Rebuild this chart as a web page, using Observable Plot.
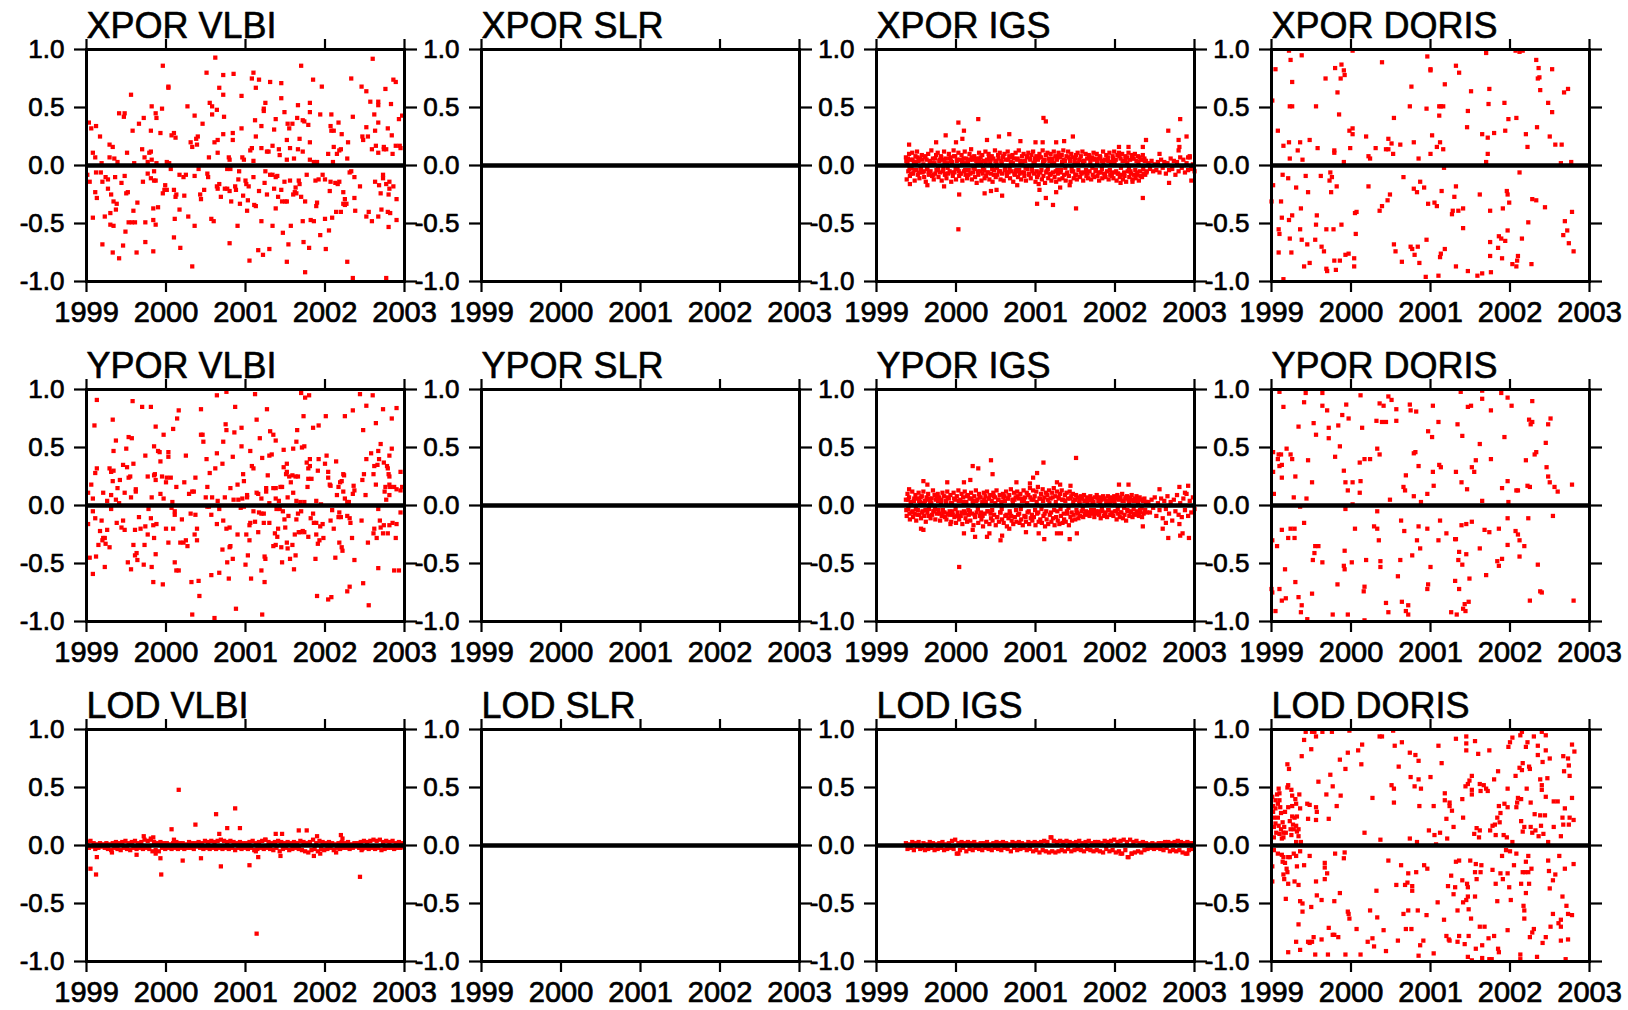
<!DOCTYPE html>
<html><head><meta charset="utf-8">
<script src="https://cdn.jsdelivr.net/npm/d3@7"></script>
<script src="https://cdn.jsdelivr.net/npm/@observablehq/plot@0.6"></script>
<style>
html,body{margin:0;padding:0;background:#fff;}
#chart{position:relative;width:1628px;height:1010px;overflow:hidden;background:#fff;}
.panel{position:absolute;}
</style></head><body><div id="chart"></div>
<script>
const parameters = ["XPOR","YPOR","LOD"];
const techniques = ["VLBI","SLR","IGS","DORIS"];
const yearTicks = [1999,2000,2001,2002,2003];
const valueTicks = [-1,-0.5,0,0.5,1];

const xporVlbi = [
[1999.03,0.37],[1999.06,0.32],[1999.12,0.34],[1999.17,0.25],[1999.08,0.11],[1999.11,0.07],[1999.19,0.02],[1999.29,0.18],[1999.33,0.16],[1999.29,0.07],
[1999.35,0.06],[1999.39,0.03],[1999.41,0.45],[1999.47,0.42],[1999.48,0.45],[1999.51,0.11],[1999.56,0.61],[1999.58,0.30],[1999.60,0.02],[1999.66,0.36],
[1999.70,0.14],[1999.72,0.41],[1999.73,0.07],[1999.77,0.03],[1999.79,0.11],[1999.81,0.12],[1999.81,0.30],[1999.82,0.51],[1999.82,0.05],[1999.87,0.45],
[1999.88,0.41],[1999.88,0.02],[1999.93,0.28],[1999.95,0.49],[1999.96,0.86],[2000.01,0.03],[2000.03,0.67],[2000.03,0.68],[2000.04,0.02],[2000.07,0.26],
[2000.10,0.28],[2000.12,0.24],[2000.27,0.51],[2000.31,0.20],[2000.33,0.16],[2000.36,0.43],[2000.38,0.23],[2000.40,0.25],[2000.39,0.18],[2000.46,0.36],
[2000.51,0.80],[2000.54,0.07],[2000.55,0.54],[2000.58,0.51],[2000.58,0.44],[2000.62,0.93],[2000.61,0.20],[2000.64,0.48],[2000.65,0.22],[2000.65,0.11],
[2000.67,0.67],[2000.72,0.78],[2000.72,0.61],[2000.73,0.42],[2000.72,0.27],[2000.79,0.07],[2000.80,0.05],[2000.84,0.28],[2000.84,0.22],[2000.85,0.79],
[2000.95,0.60],[2000.95,0.32],[2000.96,0.07],[2000.98,0.05],[2001.06,0.13],[2001.08,0.15],[2001.08,0.75],[2001.10,0.80],[2001.12,0.39],[2001.13,0.67],
[2001.13,0.25],[2001.10,0.04],[2001.17,0.74],[2001.20,0.34],[2001.20,0.15],[2001.23,0.49],[2001.23,0.47],[2001.25,0.54],[2001.27,0.12],[2001.29,0.12],
[2001.31,0.72],[2001.34,0.17],[2001.36,0.31],[2001.38,0.40],[2001.42,0.14],[2001.43,0.09],[2001.45,0.71],[2001.45,0.58],[2001.49,0.46],[2001.52,0.22],
[2001.52,0.05],[2001.53,0.36],[2001.55,0.32],[2001.56,0.15],[2001.59,0.36],[2001.61,0.06],[2001.65,0.41],[2001.66,0.52],[2001.66,0.14],[2001.68,0.23],
[2001.70,0.86],[2001.72,0.39],[2001.72,0.12],[2001.74,0.38],[2001.79,0.35],[2001.81,0.46],[2001.81,0.54],[2001.81,0.20],[2001.81,0.05],[2001.85,0.74],
[2001.86,0.03],[2001.90,0.03],[2001.94,0.44],[2001.96,0.68],[2002.04,0.10],[2002.07,0.34],[2002.08,0.44],[2002.08,0.30],[2002.10,0.03],[2002.11,0.30],
[2002.11,0.16],[2002.15,0.10],[2002.17,0.37],[2002.18,0.13],[2002.20,0.14],[2002.21,0.27],[2002.28,0.06],[2002.29,0.20],[2002.33,0.75],[2002.35,0.42],
[2002.47,0.25],[2002.48,0.22],[2002.46,0.68],[2002.52,0.64],[2002.52,0.33],[2002.54,0.25],[2002.57,0.55],[2002.59,0.14],[2002.60,0.92],[2002.62,0.44],
[2002.63,0.30],[2002.64,0.17],[2002.67,0.55],[2002.67,0.37],[2002.67,0.52],[2002.67,0.11],[2002.74,0.16],[2002.74,0.14],[2002.76,0.66],[2002.77,0.14],
[2002.79,0.32],[2002.83,0.53],[2002.84,0.26],[2002.85,0.10],[2002.86,0.74],[2002.89,0.72],[2002.89,0.17],[2002.93,0.40],[2002.94,0.17],[2002.97,0.43],
[2002.95,0.15],
[1999.01,-0.08],[1999.04,-0.14],[1999.11,-0.23],[1999.13,-0.28],[1999.08,-0.45],[1999.12,-0.06],[1999.18,-0.06],[1999.20,-0.14],[1999.23,-0.44],[1999.20,-0.68],
[1999.24,-0.10],[1999.27,-0.12],[1999.27,-0.20],[1999.31,-0.25],[1999.30,-0.41],[1999.30,-0.51],[1999.34,-0.52],[1999.34,-0.31],[1999.37,-0.38],[1999.38,-0.33],
[1999.36,-0.10],[1999.33,-0.75],[1999.41,-0.80],[1999.44,-0.15],[1999.46,-0.69],[1999.48,-0.09],[1999.49,-0.57],[1999.50,-0.24],[1999.52,-0.23],[1999.53,-0.49],
[1999.57,-0.49],[1999.59,-0.39],[1999.61,-0.49],[1999.63,-0.75],[1999.64,-0.32],[1999.71,-0.14],[1999.74,-0.49],[1999.74,-0.66],[1999.77,-0.07],[1999.81,-0.11],
[1999.85,-0.05],[1999.85,-0.13],[1999.84,-0.37],[1999.84,-0.47],[1999.87,-0.51],[1999.84,-0.74],[1999.87,-0.13],[1999.90,-0.36],[1999.96,-0.24],[1999.98,-0.21],
[1999.99,-0.17],[2000.01,-0.21],[2000.06,-0.03],[2000.10,-0.21],[2000.11,-0.46],[2000.10,-0.62],[2000.12,-0.27],[2000.13,-0.25],[2000.17,-0.38],[2000.18,-0.71],
[2000.17,-0.08],[2000.22,-0.10],[2000.23,-0.26],[2000.25,-0.08],[2000.28,-0.44],[2000.33,-0.87],[2000.36,-0.09],[2000.36,-0.52],[2000.41,-0.03],[2000.43,-0.25],
[2000.44,-0.29],[2000.48,-0.21],[2000.52,-0.07],[2000.53,-0.10],[2000.57,-0.46],[2000.60,-0.48],[2000.64,-0.18],[2000.65,-0.20],[2000.67,-0.16],[2000.69,-0.27],
[2000.74,-0.20],[2000.77,-0.20],[2000.77,-0.03],[2000.80,-0.22],[2000.81,-0.03],[2000.80,-0.67],[2000.82,-0.31],[2000.87,-0.18],[2000.88,-0.21],[2000.90,-0.52],
[2000.91,-0.12],[2000.92,-0.05],[2000.93,-0.33],[2000.97,-0.26],[2001.00,-0.13],[2001.01,-0.16],[2001.02,-0.39],[2001.03,-0.30],[2001.04,-0.18],[2001.05,-0.82],
[2001.10,-0.10],[2001.11,-0.34],[2001.13,-0.35],[2001.16,-0.73],[2001.17,-0.22],[2001.20,-0.48],[2001.22,-0.77],[2001.24,-0.15],[2001.25,-0.05],[2001.27,-0.25],
[2001.30,-0.72],[2001.31,-0.08],[2001.34,-0.08],[2001.34,-0.52],[2001.36,-0.20],[2001.38,-0.37],[2001.38,-0.10],[2001.40,-0.09],[2001.41,-0.27],[2001.45,-0.21],
[2001.46,-0.31],[2001.47,-0.58],[2001.49,-0.14],[2001.50,-0.31],[2001.52,-0.31],[2001.52,-0.83],[2001.54,-0.68],[2001.56,-0.13],[2001.57,-0.52],[2001.60,-0.25],
[2001.62,-0.23],[2001.63,-0.19],[2001.64,-0.24],[2001.67,-0.13],[2001.68,-0.16],[2001.70,-0.27],[2001.72,-0.48],[2001.73,-0.66],[2001.75,-0.92],[2001.75,-0.31],
[2001.77,-0.08],[2001.80,-0.71],[2001.82,-0.47],[2001.86,-0.48],[2001.88,-0.13],[2001.89,-0.35],[2001.90,-0.32],[2001.92,-0.12],[2001.94,-0.60],[2001.97,-0.08],
[2002.00,-0.12],[2002.00,-0.46],[2002.01,-0.72],[2002.05,-0.56],[2002.06,-0.22],[2002.07,-0.14],[2002.09,-0.45],[2002.13,-0.15],[2002.14,-0.40],[2002.16,-0.16],
[2002.18,-0.14],[2002.20,-0.40],[2002.23,-0.23],[2002.23,-0.33],[2002.25,-0.34],[2002.25,-0.29],[2002.27,-0.33],[2002.28,-0.83],[2002.31,-0.06],[2002.33,-0.05],
[2002.37,-0.10],[2002.35,-0.97],[2002.38,-0.39],[2002.37,-0.28],[2002.44,-0.18],[2002.52,-0.44],[2002.55,-0.40],[2002.59,-0.48],[2002.63,-0.14],[2002.67,-0.44],
[2002.68,-0.17],[2002.70,-0.24],[2002.71,-0.38],[2002.73,-0.08],[2002.73,-0.11],[2002.77,-0.16],[2002.77,-0.97],[2002.79,-0.40],[2002.80,-0.25],[2002.80,-0.53],
[2002.81,-0.20],[2002.82,-0.41],[2002.81,-0.14],[2002.86,-0.18],[2002.90,-0.47],[2002.90,-0.29]
];
const xporSlr = [];
const xporIgs = [
[1999.37,0.07],[1999.38,-0.12],[1999.39,0.03],[1999.40,-0.05],[1999.41,0.10],[1999.42,-0.09],[1999.43,0.05],[1999.44,-0.02],[1999.45,0.11],[1999.46,-0.07],
[1999.47,0.02],[1999.48,-0.13],[1999.49,0.08],[1999.50,-0.04],[1999.51,0.12],[1999.52,-0.08],[1999.53,0.04],[1999.54,-0.11],[1999.55,0.06],[1999.56,-0.03],
[1999.57,0.09],[1999.58,-0.06],[1999.59,0.01],[1999.60,-0.10],[1999.61,0.07],[1999.62,-0.14],[1999.63,0.05],[1999.64,-0.02],[1999.65,0.10],[1999.66,-0.08],
[1999.67,0.03],[1999.68,-0.05],[1999.69,0.13],[1999.70,-0.09],[1999.71,0.06],[1999.72,-0.12],[1999.73,0.02],[1999.74,-0.07],[1999.75,0.09],[1999.76,-0.04],
[1999.77,0.11],[1999.78,-0.10],[1999.79,0.04],[1999.80,-0.06],[1999.81,0.08],[1999.82,-0.13],[1999.83,0.05],[1999.84,-0.03],[1999.85,0.12],[1999.86,-0.08],
[1999.87,0.06],[1999.88,-0.11],[1999.89,0.02],[1999.90,-0.07],[1999.91,0.10],[1999.92,-0.05],[1999.93,0.07],[1999.94,-0.14],[1999.95,0.03],[1999.96,-0.09],
[1999.97,0.13],[1999.98,-0.06],[1999.99,0.08],[2000.00,-0.12],[2000.01,0.04],[2000.02,-0.03],[2000.03,0.11],[2000.04,-0.09],[2000.05,0.05],[2000.06,-0.07],
[2000.07,0.09],[2000.08,-0.13],[2000.09,0.02],[2000.10,-0.05],[2000.11,0.12],[2000.12,-0.08],[2000.13,0.06],[2000.14,-0.11],[2000.15,0.03],[2000.16,-0.04],
[2000.17,0.10],[2000.18,-0.07],[2000.19,0.14],[2000.20,-0.12],[2000.21,0.05],[2000.22,-0.02],[2000.23,0.08],[2000.24,-0.10],[2000.25,0.06],[2000.26,-0.15],
[2000.27,0.03],[2000.28,-0.08],[2000.29,0.11],[2000.30,-0.05],[2000.31,0.07],[2000.32,-0.13],[2000.33,0.09],[2000.34,-0.03],[2000.35,0.04],[2000.36,-0.11],
[2000.37,0.12],[2000.38,-0.09],[2000.39,0.05],[2000.40,-0.06],[2000.41,0.10],[2000.42,-0.12],[2000.43,0.02],[2000.44,-0.07],[2000.45,0.08],[2000.46,-0.14],
[2000.47,0.06],[2000.48,-0.04],[2000.49,0.13],[2000.50,-0.10],[2000.51,0.03],[2000.52,-0.08],[2000.53,0.09],[2000.54,-0.05],[2000.55,0.11],[2000.56,-0.12],
[2000.57,0.04],[2000.58,-0.07],[2000.59,0.07],[2000.60,-0.13],[2000.61,0.10],[2000.62,-0.03],[2000.63,0.05],[2000.64,-0.09],[2000.65,0.12],[2000.66,-0.06],
[2000.67,0.08],[2000.68,-0.11],[2000.69,0.03],[2000.70,-0.05],[2000.71,0.09],[2000.72,-0.14],[2000.73,0.06],[2000.74,-0.08],[2000.75,0.11],[2000.76,-0.04],
[2000.77,0.05],[2000.78,-0.10],[2000.79,0.13],[2000.80,-0.07],[2000.81,0.02],[2000.82,-0.12],[2000.83,0.08],[2000.84,-0.06],[2000.85,0.10],[2000.86,-0.09],
[2000.87,0.04],[2000.88,-0.13],[2000.89,0.07],[2000.90,-0.03],[2000.91,0.11],[2000.92,-0.08],[2000.93,0.06],[2000.94,-0.11],[2000.95,0.09],[2000.96,-0.05],
[2000.97,0.12],[2000.98,-0.07],[2000.99,0.03],[2001.00,-0.14],[2001.01,0.08],[2001.02,-0.10],[2001.03,0.05],[2001.04,-0.16],[2001.05,0.10],[2001.06,-0.06],
[2001.07,0.07],[2001.08,-0.12],[2001.09,0.13],[2001.10,-0.09],[2001.11,0.04],[2001.12,-0.15],[2001.13,0.09],[2001.14,-0.05],[2001.15,0.11],[2001.16,-0.11],
[2001.17,0.06],[2001.18,-0.08],[2001.19,0.10],[2001.20,-0.13],[2001.21,0.03],[2001.22,-0.06],[2001.23,0.12],[2001.24,-0.10],[2001.25,0.08],[2001.26,-0.14],
[2001.27,0.05],[2001.28,-0.07],[2001.29,0.11],[2001.30,-0.12],[2001.31,0.07],[2001.32,-0.04],[2001.33,0.09],[2001.34,-0.11],[2001.35,0.13],[2001.36,-0.08],
[2001.37,0.04],[2001.38,-0.13],[2001.39,0.08],[2001.40,-0.06],[2001.41,0.12],[2001.42,-0.09],[2001.43,0.06],[2001.44,-0.14],[2001.45,0.10],[2001.46,-0.05],
[2001.47,0.07],[2001.48,-0.11],[2001.49,0.03],[2001.50,-0.08],[2001.51,0.09],[2001.52,-0.12],[2001.53,0.11],[2001.54,-0.04],[2001.55,0.05],[2001.56,-0.10],
[2001.57,0.08],[2001.58,-0.07],[2001.59,0.12],[2001.60,-0.13],[2001.61,0.04],[2001.62,-0.06],[2001.63,0.10],[2001.64,-0.09],[2001.65,0.06],[2001.66,-0.11],
[2001.67,0.09],[2001.68,-0.05],[2001.69,0.03],[2001.70,-0.12],[2001.71,0.07],[2001.72,-0.08],[2001.73,0.11],[2001.74,-0.10],[2001.75,0.05],[2001.76,-0.04],
[2001.77,0.10],[2001.78,-0.09],[2001.79,0.06],[2001.80,-0.13],[2001.81,0.08],[2001.82,-0.06],[2001.83,0.04],[2001.84,-0.11],[2001.85,0.12],[2001.86,-0.07],
[2001.87,0.05],[2001.88,-0.10],[2001.89,0.09],[2001.90,-0.05],[2001.91,0.07],[2001.92,-0.12],[2001.93,0.11],[2001.94,-0.08],[2001.95,0.03],[2001.96,-0.09],
[2001.97,0.08],[2001.98,-0.11],[2001.99,0.12],[2002.00,-0.06],[2002.01,0.05],[2002.02,-0.13],[2002.03,0.09],[2002.04,-0.07],[2002.05,0.11],[2002.06,-0.10],
[2002.07,0.06],[2002.08,-0.08],[2002.09,0.10],[2002.10,-0.12],[2002.11,0.04],[2002.12,-0.09],[2002.13,0.08],[2002.14,-0.14],[2002.15,0.07],[2002.16,-0.05],
[2002.17,0.11],[2002.18,-0.10],[2002.19,0.05],[2002.20,-0.07],[2002.21,0.09],[2002.22,-0.12],[2002.23,0.06],[2002.24,-0.08],[2002.25,0.10],[2002.26,-0.11],
[2002.27,0.04],[2002.28,-0.06],[2002.29,0.08],[2002.30,-0.13],[2002.31,0.07],[2002.32,-0.09],[2002.33,0.05],[2002.34,-0.10],[2002.35,0.09],[2002.36,-0.07],
[2002.37,0.06],[2002.38,-0.08],[2002.39,0.04],[2002.40,-0.05],
[1999.375,0.04],[1999.395,0.06],[1999.415,-0.03],[1999.435,-0.07],[1999.455,0.05],[1999.475,-0.04],[1999.495,0.03],[1999.515,0.07],[1999.535,-0.06],[1999.555,-0.02],
[1999.575,0.05],[1999.595,-0.05],[1999.615,0.08],[1999.635,-0.03],[1999.655,-0.06],[1999.675,0.04],[1999.695,0.02],[1999.715,-0.08],[1999.735,0.06],[1999.755,-0.04],
[1999.775,-0.03],[1999.795,0.05],[1999.815,0.07],[1999.835,-0.05],[1999.855,0.03],[1999.875,-0.07],[1999.895,-0.02],[1999.915,0.06],[1999.935,0.04],[1999.955,-0.06],
[1999.975,0.08],[1999.995,-0.03],[2000.015,0.05],[2000.035,-0.05],[2000.055,-0.07],[2000.075,0.03],[2000.095,0.06],[2000.115,-0.04],[2000.135,0.02],[2000.155,-0.08],
[2000.175,0.05],[2000.195,0.07],[2000.215,-0.06],[2000.235,-0.03],[2000.255,0.04],[2000.275,-0.05],[2000.295,0.06],[2000.315,0.03],[2000.335,-0.07],[2000.355,-0.04],
[2000.375,0.02],[2000.395,-0.06],[2000.415,0.07],[2000.435,0.05],[2000.455,-0.03],[2000.475,-0.08],[2000.495,0.04],[2000.515,-0.02],[2000.535,0.06],[2000.555,-0.05],
[2000.575,0.03],[2000.595,0.08],[2000.615,-0.04],[2000.635,-0.06],[2000.655,0.05],[2000.675,-0.03],[2000.695,0.07],[2000.715,0.02],[2000.735,-0.07],[2000.755,-0.05],
[2000.775,0.06],[2000.795,-0.04],[2000.815,0.04],[2000.835,0.03],[2000.855,-0.06],[2000.875,-0.02],[2000.895,0.08],[2000.915,-0.07],[2000.935,0.05],[2000.955,-0.03],
[2000.975,0.02],[2000.995,0.06],[2001.015,-0.05],[2001.035,-0.08],[2001.055,0.07],[2001.075,-0.04],[2001.095,0.03],[2001.115,0.05],[2001.135,-0.06],[2001.155,-0.03],
[2001.175,0.04],[2001.195,-0.07],[2001.215,0.06],[2001.235,0.02],[2001.255,-0.05],[2001.275,-0.04],[2001.295,0.08],[2001.315,-0.06],[2001.335,0.03],[2001.355,0.05],
[2001.375,-0.02],[2001.395,-0.07],[2001.415,0.07],[2001.435,0.04],[2001.455,-0.03],[2001.475,-0.05],[2001.495,0.06],[2001.515,-0.08],[2001.535,0.02],[2001.555,0.05],
[2001.575,-0.06],[2001.595,0.03],[2001.615,0.04],[2001.635,-0.04],[2001.655,-0.07],[2001.675,0.08],[2001.695,0.05],[2001.715,-0.02],[2001.735,0.06],[2001.755,-0.05],
[2001.775,0.03],[2001.795,-0.06],[2001.815,0.07],[2001.835,-0.03],[2001.855,0.02],[2001.875,-0.08],[2001.895,0.05],[2001.915,0.04],[2001.935,-0.04],[2001.955,-0.06],
[2001.975,0.06],[2001.995,0.03],[2002.015,-0.05],[2002.035,-0.07],[2002.055,0.08],[2002.075,-0.02],[2002.095,0.04],[2002.115,-0.06],[2002.135,0.05],[2002.155,0.02],
[2002.175,-0.03],[2002.195,-0.05],[2002.215,0.07],[2002.235,0.06],[2002.255,-0.04],[2002.275,-0.08],[2002.295,0.03],[2002.315,-0.05],[2002.335,0.05],[2002.355,-0.03],
[2002.375,0.04],[2002.395,-0.06],
[2002.42,0.02],[2002.44,-0.03],[2002.46,0.04],[2002.48,-0.05],[2002.50,0.01],[2002.52,-0.04],[2002.54,0.03],[2002.56,-0.06],[2002.58,0.05],[2002.60,-0.02],
[2002.62,0.03],[2002.64,-0.07],[2002.66,0.02],[2002.68,-0.04],[2002.70,0.06],[2002.72,-0.03],[2002.74,0.04],[2002.76,-0.08],[2002.78,0.03],[2002.80,-0.05],
[2002.82,0.07],[2002.84,-0.02],[2002.86,0.05],[2002.88,-0.06],[2002.90,0.02],[2002.92,-0.04],[2002.94,0.08],[2002.96,-0.03],[2002.98,0.01],[2003.00,-0.05],
[2000.03,0.37],[2000.28,0.40],[2000.10,0.30],[2000.08,0.23],[1999.87,0.26],[1999.75,0.20],[1999.41,0.18],[2000.00,0.20],[2000.39,0.22],[2000.54,0.25],
[2000.67,0.27],[2000.81,0.21],[2001.10,0.41],[2001.13,0.38],[2001.00,0.20],[2001.26,0.20],[2001.36,0.21],[2001.47,0.25],[2001.09,0.20],[2002.39,0.22],
[2002.35,0.16],[2002.17,0.16],[2002.05,0.16],[2002.67,0.30],[2002.82,0.40],[2002.80,0.22],[2002.90,0.25],[2002.81,0.16],[2002.80,0.13],[2002.56,0.10],
[2002.92,0.07],[2002.94,0.07],
[2000.03,-0.55],[2000.04,-0.25],[2000.36,-0.24],[2000.44,-0.22],[2000.51,-0.21],[2000.58,-0.26],[2001.02,-0.33],[2001.13,-0.28],[2001.22,-0.34],[2001.26,-0.23],
[2001.51,-0.37],[2002.35,-0.28],[1999.42,-0.16],[1999.64,-0.17],[1999.85,-0.18],[2000.77,-0.17],[2001.05,-0.21],[2001.31,-0.19],[2001.43,-0.17],[2002.68,-0.15],
[2002.96,-0.13],[2002.07,-0.15],[2002.22,-0.14]
];
const xporDoris = [
[1999.01,0.56],[1999.05,0.83],[1999.08,0.30],[1999.15,0.17],[1999.22,0.99],[1999.24,0.91],[1999.23,0.51],[1999.26,0.51],[1999.26,0.72],[1999.22,0.20],
[1999.23,0.06],[1999.33,0.13],[1999.36,0.20],[1999.38,0.95],[1999.39,0.05],[1999.48,0.22],[1999.56,0.51],[1999.58,0.15],[1999.68,0.75],[1999.79,0.13],
[1999.79,0.11],[1999.80,0.84],[1999.83,0.63],[1999.85,0.44],[1999.87,0.75],[1999.88,0.87],[1999.91,0.82],[1999.92,0.78],[1999.91,0.03],[1999.98,0.30],
[1999.99,0.15],[2000.02,0.99],[2000.02,0.32],[2000.02,0.27],[2000.19,0.25],[2000.22,0.08],[2000.24,0.06],[2000.31,0.15],[2000.39,0.89],[2000.44,0.14],
[2000.47,0.23],[2000.47,0.14],[2000.51,0.19],[2000.53,0.10],[2000.54,0.41],[2000.62,0.18],[2000.74,0.51],[2000.76,0.68],[2000.79,0.20],[2000.85,0.06],
[2000.95,0.49],[2000.96,0.94],[2001.00,0.82],[2001.00,0.83],[2001.00,0.10],[2001.02,0.26],[2001.08,0.16],[2001.11,0.51],[2001.11,0.43],[2001.12,0.20],
[2001.13,0.51],[2001.16,0.51],[2001.16,0.14],[2001.18,0.70],[2001.32,0.86],[2001.36,0.80],[2001.46,0.33],[2001.47,0.47],[2001.51,0.64],[2001.65,0.27],
[2001.70,0.97],[2001.72,0.24],[2001.72,0.10],[2001.70,0.03],[2001.73,0.53],[2001.74,0.66],[2001.80,0.28],[2001.93,0.54],[2001.94,0.30],[2001.98,0.40],
[2002.07,0.99],[2002.12,0.98],[2002.08,0.41],[2002.16,0.99],[2002.20,0.27],[2002.22,0.16],[2002.33,0.91],[2002.36,0.84],[2002.35,0.75],[2002.37,0.76],
[2002.34,0.33],[2002.38,0.65],[2002.48,0.54],[2002.53,0.83],[2002.53,0.46],[2002.50,0.25],[2002.57,0.18],[2002.65,0.18],[2002.68,0.63],[2002.73,0.66],
[2002.64,0.02],[2002.77,0.03],
[1999.00,-0.31],[1999.02,-0.17],[1999.09,-0.55],[1999.10,-0.59],[1999.09,-0.75],[1999.12,-0.31],[1999.13,-0.45],[1999.14,-0.08],[1999.15,-0.98],[1999.21,-0.11],
[1999.22,-0.47],[1999.23,-0.63],[1999.25,-0.75],[1999.26,-0.43],[1999.31,-0.19],[1999.36,-0.55],[1999.37,-0.37],[1999.38,-0.64],[1999.41,-0.87],[1999.43,-0.09],
[1999.45,-0.68],[1999.46,-0.23],[1999.48,-0.84],[1999.55,-0.64],[1999.56,-0.51],[1999.57,-0.43],[1999.62,-0.09],[1999.63,-0.70],[1999.66,-0.74],[1999.69,-0.55],
[1999.69,-0.89],[1999.70,-0.91],[1999.73,-0.13],[1999.74,-0.06],[1999.75,-0.23],[1999.76,-0.10],[1999.78,-0.55],[1999.79,-0.82],[1999.81,-0.90],[1999.82,-0.18],
[1999.86,-0.82],[1999.88,-0.51],[1999.93,-0.77],[1999.97,-0.76],[2000.04,-0.80],[2000.04,-0.87],[2000.05,-0.41],[2000.07,-0.40],[2000.06,-0.59],[2000.22,-0.18],
[2000.36,-0.39],[2000.39,-0.35],[2000.46,-0.30],[2000.49,-0.25],[2000.54,-0.68],[2000.56,-0.74],[2000.64,-0.83],[2000.66,-0.10],[2000.75,-0.70],[2000.77,-0.72],
[2000.79,-0.20],[2000.80,-0.77],[2000.83,-0.23],[2000.84,-0.70],[2000.86,-0.84],[2000.87,-0.14],[2000.92,-0.19],[2000.94,-0.96],[2000.95,-0.64],[2000.97,-0.33],
[2001.05,-0.32],[2001.08,-0.35],[2001.10,-0.95],[2001.12,-0.79],[2001.13,-0.76],[2001.14,-0.22],[2001.17,-0.02],[2001.18,-0.72],[2001.27,-0.42],[2001.28,-0.39],
[2001.30,-0.27],[2001.32,-0.18],[2001.32,-0.87],[2001.35,-0.39],[2001.41,-0.37],[2001.41,-0.54],[2001.47,-0.91],[2001.62,-0.25],[2001.59,-0.95],[2001.65,-0.93],
[2001.75,-0.39],[2001.75,-0.66],[2001.75,-0.78],[2001.76,-0.92],[2001.85,-0.71],[2001.86,-0.61],[2001.89,-0.63],[2001.90,-0.80],[2001.91,-0.37],[2001.94,-0.65],
[2001.96,-0.22],[2001.97,-0.25],[2001.97,-0.56],[2001.99,-0.32],[2002.03,-0.85],[2002.08,-0.87],[2002.09,-0.82],[2002.10,-0.78],[2002.12,-0.06],[2002.15,-0.63],
[2002.23,-0.49],[2002.27,-0.85],[2002.28,-0.29],[2002.33,-0.30],[2002.44,-0.36],[2002.67,-0.60],[2002.69,-0.48],[2002.72,-0.56],[2002.74,-0.67],[2002.78,-0.40],
[2002.80,-0.74]
];

const yporVlbi = [
[1999.02,0.11],[1999.06,0.18],[1999.08,0.06],[1999.10,0.69],[1999.13,0.91],[1999.11,0.28],[1999.13,0.32],[1999.21,0.11],[1999.26,0.04],[1999.29,0.32],
[1999.31,0.29],[1999.31,0.09],[1999.33,0.74],[1999.34,0.30],[1999.34,0.47],[1999.33,0.21],[1999.37,0.56],[1999.37,0.05],[1999.39,0.15],[1999.42,0.22],
[1999.41,0.02],[1999.46,0.35],[1999.48,0.11],[1999.50,0.49],[1999.51,0.33],[1999.53,0.59],[1999.53,0.24],[1999.55,0.25],[1999.57,0.58],[1999.56,0.07],
[1999.58,0.90],[1999.59,0.36],[1999.62,0.14],[1999.62,0.12],[1999.70,0.85],[1999.74,0.43],[1999.77,0.25],[1999.81,0.85],[1999.82,0.07],[1999.85,0.26],
[1999.85,0.51],[1999.87,0.68],[1999.86,0.27],[1999.87,0.22],[1999.90,0.47],[1999.92,0.46],[1999.93,0.10],[1999.93,0.38],[1999.95,0.25],[1999.97,0.61],
[1999.97,0.06],[2000.00,0.20],[2000.01,0.24],[2000.03,0.46],[2000.03,0.42],[2000.06,0.24],[2000.08,0.03],[2000.09,0.66],[2000.13,0.16],[2000.14,0.75],
[2000.16,0.82],[2000.23,0.20],[2000.25,0.43],[2000.29,0.10],[2000.33,0.12],[2000.35,0.12],[2000.37,0.24],[2000.44,0.83],[2000.44,0.61],[2000.46,0.61],
[2000.47,0.55],[2000.51,0.40],[2000.52,0.16],[2000.55,0.28],[2000.50,0.07],[2000.58,0.07],[2000.64,0.95],[2000.62,0.32],[2000.64,0.45],[2000.65,0.04],
[2000.71,0.36],[2000.72,0.55],[2000.74,0.07],[2000.75,0.70],[2000.76,0.65],[2000.76,0.98],[2000.81,0.15],[2000.84,0.42],[2000.85,0.05],[2000.86,0.63],
[2000.87,0.85],[2000.90,0.18],[2000.91,0.05],[2000.95,0.51],[2000.95,0.67],[2000.96,0.06],[2000.97,0.27],[2000.98,0.21],[2001.02,0.09],[2001.02,0.07],
[2001.06,0.47],[2001.08,0.34],[2001.10,0.32],[2001.12,0.96],[2001.14,0.74],[2001.14,0.11],[2001.16,0.10],[2001.18,0.58],[2001.20,0.06],[2001.21,0.41],
[2001.26,0.12],[2001.26,0.15],[2001.27,0.83],[2001.28,0.26],[2001.30,0.02],[2001.31,0.64],[2001.30,0.43],[2001.33,0.44],[2001.35,0.61],[2001.35,0.15],
[2001.38,0.15],[2001.38,0.56],[2001.38,0.06],[2001.42,0.04],[2001.44,0.16],[2001.46,0.16],[2001.48,0.33],[2001.48,0.48],[2001.51,0.27],[2001.52,0.29],
[2001.53,0.07],[2001.52,0.36],[2001.55,0.25],[2001.57,0.20],[2001.59,0.26],[2001.60,0.11],[2001.60,0.49],[2001.63,0.25],[2001.64,0.55],[2001.65,0.65],
[2001.66,0.25],[2001.64,0.04],[2001.69,0.03],[2001.70,0.97],[2001.71,0.50],[2001.73,0.77],[2001.74,0.51],[2001.75,0.93],[2001.74,0.03],[2001.77,0.37],
[2001.78,0.16],[2001.79,0.32],[2001.80,0.95],[2001.81,0.40],[2001.81,0.34],[2001.79,0.23],[2001.83,0.23],[2001.85,0.67],[2001.89,0.04],[2001.91,0.30],
[2001.92,0.40],[2001.92,0.69],[2001.95,0.01],[2002.00,0.36],[2002.01,0.77],[2002.02,0.43],[2002.04,0.29],[2002.04,0.24],[2002.06,0.18],[2002.07,0.17],
[2002.14,0.38],[2002.15,0.09],[2002.17,0.16],[2002.19,0.20],[2002.21,0.21],[2002.23,0.27],[2002.24,0.26],[2002.25,0.77],[2002.23,0.12],[2002.25,0.06],
[2002.28,0.03],[2002.30,0.03],[2002.35,0.10],[2002.36,0.17],[2002.35,0.82],[2002.37,0.13],[2002.44,0.96],[2002.47,0.22],[2002.48,0.65],[2002.49,0.27],
[2002.51,0.09],[2002.52,0.86],[2002.52,0.40],[2002.58,0.45],[2002.60,0.95],[2002.61,0.27],[2002.62,0.34],[2002.64,0.71],[2002.64,0.18],[2002.66,0.35],
[2002.68,0.40],[2002.67,0.47],[2002.70,0.53],[2002.73,0.83],[2002.74,0.37],[2002.75,0.12],[2002.76,0.16],[2002.77,0.05],[2002.78,0.34],[2002.79,0.32],
[2002.80,0.27],[2002.81,0.25],[2002.81,0.18],[2002.81,0.09],[2002.81,0.43],[2002.82,0.16],[2002.84,0.75],[2002.84,0.49],[2002.87,0.16],[2002.90,0.14],
[2002.90,0.84],[2002.95,0.13],[2002.95,0.29],[2002.97,0.16],
[1999.02,-0.16],[1999.04,-0.45],[1999.08,-0.05],[1999.08,-0.59],[1999.11,-0.11],[1999.12,-0.44],[1999.15,-0.34],[1999.17,-0.22],[1999.19,-0.13],[1999.20,-0.30],
[1999.21,-0.28],[1999.23,-0.28],[1999.23,-0.53],[1999.24,-0.33],[1999.26,-0.21],[1999.29,-0.36],[1999.31,-0.03],[1999.38,-0.15],[1999.44,-0.19],[1999.46,-0.13],
[1999.48,-0.21],[1999.52,-0.49],[1999.56,-0.55],[1999.59,-0.34],[1999.61,-0.43],[1999.61,-0.21],[1999.63,-0.41],[1999.64,-0.47],[1999.66,-0.10],[1999.68,-0.20],
[1999.72,-0.51],[1999.73,-0.34],[1999.74,-0.18],[1999.77,-0.25],[1999.78,-0.03],[1999.81,-0.11],[1999.82,-0.53],[1999.84,-0.66],[1999.84,-0.17],[1999.85,-0.28],
[1999.87,-0.42],[1999.88,-0.16],[1999.96,-0.68],[2000.00,-0.20],[2000.03,-0.32],[2000.07,-0.02],[2000.09,-0.20],[2000.11,-0.05],[2000.11,-0.49],[2000.11,-0.08],
[2000.13,-0.56],[2000.16,-0.56],[2000.18,-0.32],[2000.20,-0.12],[2000.22,-0.32],[2000.25,-0.30],[2000.27,-0.35],[2000.31,-0.07],[2000.32,-0.66],[2000.33,-0.94],
[2000.36,-0.25],[2000.37,-0.08],[2000.39,-0.20],[2000.39,-0.30],[2000.41,-0.65],[2000.42,-0.78],[2000.52,-0.01],[2000.54,-0.01],[2000.57,-0.08],[2000.57,-0.60],
[2000.61,-0.97],[2000.64,-0.16],[2000.67,-0.03],[2000.67,-0.58],[2000.71,-0.38],[2000.72,-0.13],[2000.76,-0.20],[2000.77,-0.49],[2000.79,-0.63],[2000.80,-0.19],
[2000.80,-0.36],[2000.81,-0.35],[2000.84,-0.46],[2000.88,-0.89],[2000.90,-0.25],[2000.94,-0.02],[2000.98,-0.01],[2001.00,-0.51],[2001.01,-0.25],[2001.03,-0.43],
[2001.05,-0.17],[2001.05,-0.30],[2001.07,-0.63],[2001.06,-0.15],[2001.10,-0.05],[2001.12,-0.14],[2001.16,-0.23],[2001.17,-0.06],[2001.20,-0.56],[2001.20,-0.07],
[2001.21,-0.94],[2001.23,-0.15],[2001.23,-0.07],[2001.24,-0.44],[2001.24,-0.66],[2001.25,-0.46],[2001.30,-0.15],[2001.35,-0.35],[2001.37,-0.24],[2001.38,-0.34],
[2001.39,-0.03],[2001.40,-0.27],[2001.41,-0.20],[2001.43,-0.03],[2001.45,-0.36],[2001.46,-0.49],[2001.47,-0.05],[2001.49,-0.12],[2001.50,-0.19],[2001.52,-0.32],
[2001.53,-0.37],[2001.54,-0.09],[2001.56,-0.46],[2001.59,-0.34],[2001.61,-0.55],[2001.62,-0.25],[2001.63,-0.43],[2001.64,-0.12],[2001.66,-0.07],[2001.67,-0.23],
[2001.69,-0.23],[2001.70,-0.05],[2001.72,-0.22],[2001.74,-0.23],[2001.79,-0.27],[2001.82,-0.11],[2001.85,-0.07],[2001.86,-0.15],[2001.88,-0.46],[2001.89,-0.15],
[2001.89,-0.25],[2001.90,-0.78],[2001.91,-0.33],[2001.93,-0.30],[2001.94,-0.18],[2001.97,-0.16],[2001.98,-0.28],[2002.04,-0.81],[2002.07,-0.13],[2002.08,-0.79],
[2002.09,-0.04],[2002.11,-0.20],[2002.13,-0.45],[2002.17,-0.10],[2002.18,-0.32],[2002.18,-0.06],[2002.20,-0.10],[2002.21,-0.36],[2002.22,-0.39],[2002.28,-0.74],
[2002.31,-0.70],[2002.28,-0.09],[2002.31,-0.11],[2002.32,-0.15],[2002.34,-0.28],[2002.37,-0.47],[2002.46,-0.13],[2002.48,-0.67],[2002.54,-0.32],[2002.55,-0.86],
[2002.61,-0.24],[2002.62,-0.20],[2002.65,-0.28],[2002.67,-0.54],[2002.67,-0.03],[2002.69,-0.13],[2002.70,-0.19],[2002.73,-0.24],[2002.74,-0.17],[2002.79,-0.24],
[2002.81,-0.17],[2002.87,-0.56],[2002.85,-0.15],[2002.90,-0.16],[2002.89,-0.28],[2002.93,-0.56],[2002.95,-0.06]
];
const yporSlr = [];
const yporIgs = [
[1999.37,0.05],[1999.38,-0.09],[1999.39,0.10],[1999.40,-0.03],[1999.41,0.07],[1999.42,-0.12],[1999.43,0.02],[1999.44,-0.06],[1999.45,0.12],[1999.46,-0.10],
[1999.47,0.04],[1999.48,-0.07],[1999.49,0.09],[1999.50,-0.13],[1999.51,0.06],[1999.52,-0.04],[1999.53,0.11],[1999.54,-0.08],[1999.55,0.03],[1999.56,-0.11],
[1999.57,0.08],[1999.58,-0.05],[1999.59,0.12],[1999.60,-0.09],[1999.61,0.04],[1999.62,-0.14],[1999.63,0.07],[1999.64,-0.06],[1999.65,0.10],[1999.66,-0.03],
[1999.67,0.06],[1999.68,-0.11],[1999.69,0.02],[1999.70,-0.08],[1999.71,0.13],[1999.72,-0.05],[1999.73,0.09],[1999.74,-0.12],[1999.75,0.05],[1999.76,-0.07],
[1999.77,0.10],[1999.78,-0.04],[1999.79,0.07],[1999.80,-0.13],[1999.81,0.03],[1999.82,-0.09],[1999.83,0.11],[1999.84,-0.06],[1999.85,0.08],[1999.86,-0.10],
[1999.87,0.04],[1999.88,-0.12],[1999.89,0.12],[1999.90,-0.07],[1999.91,0.06],[1999.92,-0.05],[1999.93,0.09],[1999.94,-0.14],[1999.95,0.02],[1999.96,-0.08],
[1999.97,0.11],[1999.98,-0.10],[1999.99,0.05],[2000.00,-0.15],[2000.01,0.08],[2000.02,-0.06],[2000.03,0.13],[2000.04,-0.12],[2000.05,0.04],[2000.06,-0.09],
[2000.07,0.10],[2000.08,-0.16],[2000.09,0.07],[2000.10,-0.05],[2000.11,0.12],[2000.12,-0.11],[2000.13,0.03],[2000.14,-0.14],[2000.15,0.09],[2000.16,-0.08],
[2000.17,0.06],[2000.18,-0.13],[2000.19,0.11],[2000.20,-0.07],[2000.21,0.04],[2000.22,-0.17],[2000.23,0.08],[2000.24,-0.10],[2000.25,0.13],[2000.26,-0.06],
[2000.27,0.05],[2000.28,-0.15],[2000.29,0.10],[2000.30,-0.09],[2000.31,0.07],[2000.32,-0.12],[2000.33,0.03],[2000.34,-0.18],[2000.35,0.11],[2000.36,-0.07],
[2000.37,0.08],[2000.38,-0.14],[2000.39,0.12],[2000.40,-0.05],[2000.41,0.06],[2000.42,-0.16],[2000.43,0.09],[2000.44,-0.11],[2000.45,0.04],[2000.46,-0.13],
[2000.47,0.11],[2000.48,-0.08],[2000.49,0.07],[2000.50,-0.17],[2000.51,0.13],[2000.52,-0.10],[2000.53,0.05],[2000.54,-0.14],[2000.55,0.09],[2000.56,-0.06],
[2000.57,0.03],[2000.58,-0.12],[2000.59,0.10],[2000.60,-0.15],[2000.61,0.08],[2000.62,-0.09],[2000.63,0.12],[2000.64,-0.18],[2000.65,0.06],[2000.66,-0.11],
[2000.67,0.09],[2000.68,-0.07],[2000.69,0.14],[2000.70,-0.13],[2000.71,0.05],[2000.72,-0.16],[2000.73,0.11],[2000.74,-0.10],[2000.75,0.07],[2000.76,-0.14],
[2000.77,0.12],[2000.78,-0.08],[2000.79,0.06],[2000.80,-0.15],[2000.81,0.10],[2000.82,-0.12],[2000.83,0.04],[2000.84,-0.17],[2000.85,0.13],[2000.86,-0.09],
[2000.87,0.07],[2000.88,-0.14],[2000.89,0.11],[2000.90,-0.06],[2000.91,0.09],[2000.92,-0.16],[2000.93,0.15],[2000.94,-0.11],[2000.95,0.05],[2000.96,-0.13],
[2000.97,0.13],[2000.98,-0.10],[2000.99,0.08],[2001.00,-0.17],[2001.01,0.12],[2001.02,-0.07],[2001.03,0.16],[2001.04,-0.14],[2001.05,0.06],[2001.06,-0.12],
[2001.07,0.10],[2001.08,-0.15],[2001.09,0.14],[2001.10,-0.09],[2001.11,0.07],[2001.12,-0.18],[2001.13,0.11],[2001.14,-0.12],[2001.15,0.09],[2001.16,-0.16],
[2001.17,0.13],[2001.18,-0.08],[2001.19,0.06],[2001.20,-0.14],[2001.21,0.11],[2001.22,-0.11],[2001.23,0.15],[2001.24,-0.17],[2001.25,0.08],[2001.26,-0.10],
[2001.27,0.12],[2001.28,-0.13],[2001.29,0.07],[2001.30,-0.16],[2001.31,0.10],[2001.32,-0.09],[2001.33,0.13],[2001.34,-0.15],[2001.35,0.05],[2001.36,-0.12],
[2001.37,0.09],[2001.38,-0.14],[2001.39,0.11],[2001.40,-0.07],[2001.41,0.06],[2001.42,-0.17],[2001.43,0.12],[2001.44,-0.10],[2001.45,0.08],[2001.46,-0.13],
[2001.47,0.10],[2001.48,-0.08],[2001.49,0.05],[2001.50,-0.12],[2001.51,0.09],[2001.52,-0.06],[2001.53,0.07],[2001.54,-0.11],[2001.55,0.04],[2001.56,-0.09],
[2001.57,0.08],[2001.58,-0.05],[2001.59,0.06],[2001.60,-0.10],[2001.61,0.09],[2001.62,-0.07],[2001.63,0.04],[2001.64,-0.08],[2001.65,0.07],[2001.66,-0.06],
[2001.67,0.05],[2001.68,-0.09],[2001.69,0.08],[2001.70,-0.04],[2001.71,0.06],[2001.72,-0.07],[2001.73,0.03],[2001.74,-0.10],[2001.75,0.07],[2001.76,-0.05],
[2001.77,0.09],[2001.78,-0.06],[2001.79,0.04],[2001.80,-0.08],[2001.81,0.07],[2001.82,-0.11],[2001.83,0.05],[2001.84,-0.05],[2001.85,0.08],[2001.86,-0.09],
[2001.87,0.06],[2001.88,-0.07],[2001.89,0.03],[2001.90,-0.10],[2001.91,0.08],[2001.92,-0.04],[2001.93,0.05],[2001.94,-0.08],[2001.95,0.07],[2001.96,-0.06],
[2001.97,0.04],[2001.98,-0.09],[2001.99,0.08],[2002.00,-0.05],[2002.01,0.06],[2002.02,-0.12],[2002.03,0.09],[2002.04,-0.07],[2002.05,0.05],[2002.06,-0.10],
[2002.07,0.07],[2002.08,-0.06],[2002.09,0.10],[2002.10,-0.11],[2002.11,0.04],[2002.12,-0.08],[2002.13,0.06],[2002.14,-0.13],[2002.15,0.08],[2002.16,-0.05],
[2002.17,0.05],[2002.18,-0.09],[2002.19,0.07],[2002.20,-0.06],[2002.21,0.09],[2002.22,-0.10],[2002.23,0.04],[2002.24,-0.07],[2002.25,0.06],[2002.26,-0.08],
[2002.27,0.08],[2002.28,-0.05],[2002.29,0.03],[2002.30,-0.09],[2002.31,0.07],[2002.32,-0.06],[2002.33,0.05],[2002.34,-0.10],[2002.35,0.04],[2002.36,-0.07],
[2002.37,0.06],[2002.38,-0.04],[2002.39,0.03],[2002.40,-0.06],
[1999.375,-0.04],[1999.395,0.05],[1999.415,-0.07],[1999.435,0.03],[1999.455,-0.05],[1999.475,0.06],[1999.495,-0.03],[1999.515,-0.08],[1999.535,0.04],[1999.555,0.07],
[1999.575,-0.06],[1999.595,0.02],[1999.615,-0.04],[1999.635,0.05],[1999.655,-0.09],[1999.675,0.03],[1999.695,0.06],[1999.715,-0.05],[1999.735,-0.03],[1999.755,0.08],
[1999.775,0.04],[1999.795,-0.07],[1999.815,0.05],[1999.835,-0.04],[1999.855,-0.06],[1999.875,0.03],[1999.895,0.07],[1999.915,-0.08],[1999.935,0.02],[1999.955,-0.05],
[1999.975,0.06],[1999.995,-0.03],[2000.015,-0.09],[2000.035,0.04],[2000.055,0.05],[2000.075,-0.06],[2000.095,0.03],[2000.115,-0.07],[2000.135,0.08],[2000.155,-0.04],
[2000.175,-0.05],[2000.195,0.06],[2000.215,0.02],[2000.235,-0.08],[2000.255,0.04],[2000.275,-0.03],[2000.295,0.07],[2000.315,-0.06],[2000.335,-0.09],[2000.355,0.05],
[2000.375,0.03],[2000.395,-0.05],[2000.415,0.06],[2000.435,-0.07],[2000.455,-0.04],[2000.475,0.08],[2000.495,0.02],[2000.515,-0.10],[2000.535,0.05],[2000.555,-0.06],
[2000.575,-0.03],[2000.595,0.07],[2000.615,0.04],[2000.635,-0.08],[2000.655,0.06],[2000.675,-0.05],[2000.695,-0.09],[2000.715,0.03],[2000.735,0.05],[2000.755,-0.04],
[2000.775,0.08],[2000.795,-0.07],[2000.815,-0.03],[2000.835,0.06],[2000.855,0.04],[2000.875,-0.10],[2000.895,0.02],[2000.915,-0.05],[2000.935,0.07],[2000.955,-0.08],
[2000.975,0.05],[2000.995,-0.04],[2001.015,0.03],[2001.035,-0.06],[2001.055,0.06],[2001.075,-0.03],[2001.095,0.04],[2001.115,-0.07],[2001.135,-0.05],[2001.155,0.05],
[2001.175,0.02],[2001.195,-0.06],[2001.215,0.07],[2001.235,-0.04],[2001.255,0.03],[2001.275,-0.05],[2001.295,0.06],[2001.315,-0.03],[2001.335,0.05],[2001.355,-0.07],
[2001.375,0.04],[2001.395,-0.05],[2001.415,-0.02],[2001.435,0.06],[2001.455,-0.06],[2001.475,0.03],[2001.495,0.05],[2001.515,-0.04],[2001.535,-0.07],[2001.555,0.02],
[2001.575,0.06],[2001.595,-0.03],[2001.615,0.04],[2001.635,-0.05],[2001.655,0.03],[2001.675,-0.06],[2001.695,0.05],[2001.715,0.02],[2001.735,-0.04],[2001.755,-0.07],
[2001.775,0.07],[2001.795,-0.05],[2001.815,0.03],[2001.835,-0.03],[2001.855,0.06],[2001.875,-0.06],[2001.895,0.04],[2001.915,-0.04],[2001.935,0.02],[2001.955,-0.08],
[2001.975,0.05],[2001.995,0.03],[2002.015,-0.05],[2002.035,-0.03],[2002.055,0.06],[2002.075,-0.06],[2002.095,0.04],[2002.115,-0.02],[2002.135,0.07],[2002.155,-0.04],
[2002.175,0.03],[2002.195,-0.05],[2002.215,0.05],[2002.235,-0.03],[2002.255,0.04],[2002.275,-0.06],[2002.295,0.06],[2002.315,-0.04],[2002.335,-0.02],[2002.355,0.05],
[2002.375,-0.05],[2002.395,0.03],
[2002.42,0.03],[2002.44,-0.06],[2002.46,0.05],[2002.48,-0.02],[2002.50,0.07],[2002.52,-0.09],[2002.54,0.02],[2002.56,-0.04],[2002.58,0.06],[2002.60,-0.11],
[2002.62,0.04],[2002.64,-0.03],[2002.66,0.08],[2002.68,-0.07],[2002.70,0.03],[2002.72,-0.13],[2002.74,0.05],[2002.76,-0.05],[2002.78,0.09],[2002.80,-0.08],
[2002.82,0.02],[2002.84,-0.10],[2002.86,0.06],[2002.88,-0.04],[2002.90,0.10],[2002.92,-0.09],[2002.94,0.04],[2002.96,-0.06],[2002.98,0.07],[2003.00,-0.03],
[2000.04,-0.53],[2000.44,0.39],[2000.21,0.34],[2000.28,0.32],[2000.46,0.27],[2001.10,0.37],[2001.51,0.41],[2001.02,0.28],[2000.97,0.24],[2000.93,0.19],
[2000.76,0.20],[2000.18,0.22],[2000.10,0.20],[1999.89,0.20],[1999.59,0.21],[1999.64,0.18],[1999.41,0.14],[2001.27,0.20],[2001.31,0.18],[2001.44,0.17],
[2002.05,0.18],[2002.17,0.18],[2002.81,0.16],[2002.92,0.17],[2002.88,0.11],[2002.56,0.14],
[2000.56,-0.30],[2000.58,-0.26],[2001.11,-0.29],[2001.43,-0.29],[2001.52,-0.24],[2000.24,-0.27],[2000.39,-0.27],[2000.42,-0.24],[2000.10,-0.24],[2000.21,-0.21],
[1999.56,-0.20],[1999.59,-0.21],[1999.93,-0.16],[2000.67,-0.20],[2000.88,-0.23],[2001.04,-0.24],[2001.27,-0.24],[2001.32,-0.24],[2002.35,-0.18],[2002.60,-0.20],
[2002.67,-0.28],[2002.82,-0.26],[2002.85,-0.24],[2002.93,-0.28],[2002.81,-0.16],[2002.64,-0.15]
];
const yporDoris = [
[1999.02,0.46],[1999.02,0.29],[1999.03,0.10],[1999.08,0.40],[1999.09,0.44],[1999.10,0.34],[1999.10,0.98],[1999.12,0.44],[1999.13,0.35],[1999.13,0.24],
[1999.15,0.85],[1999.19,0.49],[1999.24,0.44],[1999.26,0.40],[1999.28,0.07],[1999.30,0.25],[1999.34,0.68],[1999.41,0.89],[1999.43,0.97],[1999.44,0.06],
[1999.46,0.39],[1999.51,0.20],[1999.53,0.71],[1999.56,0.61],[1999.64,0.97],[1999.64,0.86],[1999.70,0.82],[1999.72,0.67],[1999.72,0.58],[1999.80,0.42],
[1999.84,0.69],[1999.86,0.51],[1999.89,0.78],[1999.91,0.30],[1999.93,0.20],[1999.94,0.87],[1999.96,0.13],[1999.97,0.75],[2000.02,0.20],[2000.02,0.01],
[2000.11,0.37],[2000.11,0.11],[2000.12,0.95],[2000.12,0.21],[2000.14,0.67],[2000.17,0.40],[2000.24,0.40],[2000.32,0.73],[2000.33,0.49],[2000.36,0.88],
[2000.36,0.44],[2000.39,0.72],[2000.41,0.86],[2000.44,0.72],[2000.47,0.94],[2000.49,0.05],[2000.51,0.91],[2000.57,0.83],[2000.57,0.73],[2000.66,0.16],
[2000.68,0.13],[2000.69,0.26],[2000.74,0.87],[2000.75,0.82],[2000.79,0.08],[2000.79,0.45],[2000.81,0.46],[2000.82,0.81],[2000.85,0.34],[2000.88,0.03],
[2000.96,0.10],[2000.97,0.64],[2001.02,0.59],[2001.03,0.86],[2001.03,0.29],[2001.04,0.17],[2001.10,0.72],[2001.11,0.35],[2001.13,0.33],[2001.32,0.29],
[2001.34,0.70],[2001.38,0.98],[2001.39,0.20],[2001.40,0.60],[2001.46,0.14],[2001.47,0.85],[2001.51,0.86],[2001.52,0.33],[2001.55,0.29],[2001.57,0.39],
[2001.62,0.53],[2001.65,0.92],[2001.65,0.99],[2001.65,0.04],[2001.76,0.82],[2001.76,0.40],[2001.89,0.97],[2001.90,0.15],[2001.93,0.59],[2001.97,0.93],
[2001.97,0.21],[2001.98,0.03],[2002.02,0.86],[2002.08,0.13],[2002.10,0.13],[2002.20,0.39],[2002.22,0.17],[2002.24,0.74],[2002.25,0.16],[2002.26,0.70],
[2002.28,0.72],[2002.28,0.90],[2002.31,0.44],[2002.33,0.46],[2002.45,0.54],[2002.46,0.33],[2002.48,0.70],[2002.48,0.25],[2002.50,0.20],[2002.51,0.75],
[2002.56,0.16],[2002.60,0.12],[2002.78,0.18],
[1999.01,-0.30],[1999.00,-0.72],[1999.01,-0.75],[1999.05,-0.91],[1999.07,-0.35],[1999.10,-0.72],[1999.13,-0.21],[1999.13,-0.82],[1999.17,-0.55],[1999.18,-0.80],
[1999.21,-0.28],[1999.24,-0.20],[1999.29,-0.20],[1999.29,-0.28],[1999.30,-0.66],[1999.34,-0.79],[1999.36,-0.01],[1999.37,-0.92],[1999.38,-0.86],[1999.41,-0.15],
[1999.45,-0.98],[1999.51,-0.76],[1999.52,-0.47],[1999.54,-0.41],[1999.55,-0.35],[1999.59,-0.35],[1999.64,-0.49],[1999.77,-0.94],[1999.83,-0.68],[1999.92,-0.39],
[1999.91,-0.52],[1999.92,-0.55],[1999.93,-0.03],[1999.96,-0.94],[2000.01,-0.49],[2000.05,-0.20],[2000.16,-0.74],[2000.17,-0.70],[2000.17,-0.99],[2000.19,-0.47],
[2000.29,-0.18],[2000.33,-0.05],[2000.33,-0.20],[2000.35,-0.30],[2000.37,-0.48],[2000.37,-0.53],[2000.44,-0.84],[2000.47,-0.92],[2000.59,-0.61],[2000.62,-0.47],
[2000.63,-0.13],[2000.64,-0.83],[2000.67,-0.22],[2000.69,-0.91],[2000.72,-0.86],[2000.72,-0.94],[2000.77,-0.43],[2000.83,-0.30],[2000.85,-0.18],[2000.87,-0.37],
[2000.96,-0.20],[2000.96,-0.72],[2000.97,-0.68],[2001.00,-0.53],[2001.10,-0.30],[2001.12,-0.13],[2001.20,-0.24],[2001.26,-0.92],[2001.31,-0.29],[2001.32,-0.29],
[2001.31,-0.65],[2001.33,-0.94],[2001.35,-0.47],[2001.36,-0.40],[2001.36,-0.72],[2001.39,-0.17],[2001.40,-0.51],[2001.41,-0.89],[2001.43,-0.85],[2001.44,-0.91],
[2001.45,-0.42],[2001.45,-0.16],[2001.48,-0.83],[2001.49,-0.63],[2001.52,-0.14],[2001.62,-0.37],[2001.68,-0.21],[2001.70,-0.60],[2001.74,-0.23],[2001.84,-0.48],
[2001.86,-0.52],[2001.86,-0.20],[2001.90,-0.46],[2001.97,-0.11],[2001.97,-0.34],[2002.07,-0.22],[2002.10,-0.25],[2002.12,-0.30],[2002.12,-0.44],[2002.18,-0.35],
[2002.23,-0.11],[2002.25,-0.82],[2002.35,-0.51],[2002.38,-0.74],[2002.40,-0.75],[2002.54,-0.09],[2002.80,-0.82]
];

const lodVlbi = [
[1999.01,0.03],[1999.03,-0.02],[1999.05,0.04],[1999.07,-0.01],[1999.09,0.02],[1999.11,-0.03],[1999.13,0.01],[1999.15,-0.02],[1999.17,0.02],[1999.19,-0.01],
[1999.21,0.01],[1999.23,-0.02],[1999.25,0.02],[1999.27,-0.03],[1999.29,0.01],[1999.31,-0.04],[1999.33,0.02],[1999.35,-0.02],[1999.37,0.03],[1999.39,-0.03],
[1999.41,0.02],[1999.43,-0.04],[1999.45,0.03],[1999.47,-0.02],[1999.49,0.04],[1999.51,-0.03],[1999.53,0.02],[1999.55,-0.04],[1999.57,0.03],[1999.59,-0.02],
[1999.61,0.04],[1999.63,-0.03],[1999.65,0.02],[1999.67,-0.02],[1999.69,0.03],[1999.71,-0.03],[1999.73,0.05],[1999.75,-0.02],[1999.77,0.04],[1999.79,-0.03],
[1999.81,0.06],[1999.83,-0.05],[1999.85,0.03],[1999.87,-0.04],[1999.89,0.02],[1999.91,-0.05],[1999.93,0.03],[1999.95,-0.02],[1999.97,0.02],[1999.99,-0.03],
[2000.01,0.02],[2000.03,-0.02],[2000.05,0.01],[2000.07,-0.03],[2000.09,0.02],[2000.11,-0.02],[2000.13,0.03],[2000.15,-0.03],[2000.17,0.02],[2000.19,-0.02],
[2000.21,0.02],[2000.23,-0.03],[2000.25,0.01],[2000.27,-0.02],[2000.29,0.03],[2000.31,-0.02],[2000.33,0.02],[2000.35,-0.03],[2000.37,0.02],[2000.39,-0.01],
[2000.41,0.03],[2000.43,-0.02],[2000.45,0.02],[2000.47,-0.03],[2000.49,0.04],[2000.51,-0.02],[2000.53,0.03],[2000.55,-0.03],[2000.57,0.04],[2000.59,-0.02],
[2000.61,0.03],[2000.63,-0.03],[2000.65,0.04],[2000.67,-0.02],[2000.69,0.05],[2000.71,-0.03],[2000.73,0.04],[2000.75,-0.02],[2000.77,0.03],[2000.79,-0.03],
[2000.81,0.04],[2000.83,-0.02],[2000.85,0.03],[2000.87,-0.04],[2000.89,0.02],[2000.91,-0.02],[2000.93,0.03],[2000.95,-0.03],[2000.97,0.02],[2000.99,-0.02],
[2001.01,0.02],[2001.03,-0.03],[2001.05,0.03],[2001.07,-0.02],[2001.09,0.04],[2001.11,-0.04],[2001.13,0.02],[2001.15,-0.03],[2001.17,0.03],[2001.19,-0.02],
[2001.21,0.04],[2001.23,-0.03],[2001.25,0.05],[2001.27,-0.02],[2001.29,0.03],[2001.31,-0.03],[2001.33,0.02],[2001.35,-0.04],[2001.37,0.03],[2001.39,-0.02],
[2001.41,0.04],[2001.43,-0.05],[2001.45,0.03],[2001.47,-0.03],[2001.49,0.02],[2001.51,-0.02],[2001.53,0.03],[2001.55,-0.04],[2001.57,0.02],[2001.59,-0.03],
[2001.61,0.03],[2001.63,-0.02],[2001.65,0.02],[2001.67,-0.03],[2001.69,0.04],[2001.71,-0.04],[2001.73,0.03],[2001.75,-0.05],[2001.77,0.02],[2001.79,-0.06],
[2001.81,0.03],[2001.83,-0.04],[2001.85,0.05],[2001.87,-0.03],[2001.89,0.02],[2001.91,-0.05],[2001.93,0.04],[2001.95,-0.03],[2001.97,0.03],[2001.99,-0.04],
[2002.01,0.02],[2002.03,-0.03],[2002.05,0.03],[2002.07,-0.02],[2002.09,0.02],[2002.11,-0.04],[2002.13,0.01],[2002.15,-0.02],[2002.17,0.02],[2002.19,-0.03],
[2002.21,0.03],[2002.23,-0.02],[2002.25,0.02],[2002.27,-0.02],[2002.29,0.03],[2002.31,-0.03],[2002.33,0.01],[2002.35,-0.02],[2002.37,0.02],[2002.39,-0.01],
[2002.41,0.02],[2002.43,-0.02],[2002.45,0.03],[2002.47,-0.03],[2002.49,0.04],[2002.51,-0.02],[2002.53,0.03],[2002.55,-0.03],[2002.57,0.04],[2002.59,-0.02],
[2002.61,0.05],[2002.63,-0.03],[2002.65,0.04],[2002.67,-0.02],[2002.69,0.05],[2002.71,-0.04],[2002.73,0.03],[2002.75,-0.03],[2002.77,0.04],[2002.79,-0.02],
[2002.81,0.03],[2002.83,-0.02],[2002.85,0.04],[2002.87,-0.03],[2002.89,0.02],[2002.91,-0.02],[2002.93,0.03],[2002.95,-0.02],[2002.97,0.02],[2002.99,-0.01],
[1999.05,-0.20],[1999.12,-0.25],[1999.13,-0.10],[1999.32,-0.06],[1999.63,-0.08],[1999.72,0.08],[1999.84,0.07],[1999.81,0.05],[1999.87,-0.07],[1999.93,-0.11],
[1999.94,-0.25],[2000.07,0.14],[2000.10,0.05],[2000.16,0.48],[2000.21,-0.13],[2000.37,0.18],[2000.44,-0.11],[2000.63,0.27],[2000.67,0.10],[2000.69,-0.18],
[2000.77,0.15],[2000.87,0.32],[2000.93,0.15],[2001.05,-0.17],[2001.14,-0.76],[2001.16,-0.10],[2001.13,-0.05],[2001.25,0.05],[2001.38,0.10],[2001.46,0.10],
[2001.44,-0.09],[2001.67,0.13],[2001.77,0.13],[2001.86,-0.09],[2001.90,0.08],[2001.94,-0.07],[2002.14,-0.06],[2002.20,0.09],[2002.22,0.06],[2002.44,-0.27],
[2002.46,-0.04]
];
const lodSlr = [];
const lodIgs = [
[1999.37,0.02],[1999.39,-0.03],[1999.41,0.01],[1999.43,-0.02],[1999.45,0.03],[1999.47,-0.04],[1999.49,0.02],[1999.51,-0.01],[1999.53,0.03],[1999.55,-0.03],
[1999.57,-0.02],[1999.59,0.02],[1999.61,-0.04],[1999.63,0.01],[1999.65,-0.03],[1999.67,0.03],[1999.69,-0.02],[1999.71,0.02],[1999.73,-0.04],[1999.75,0.01],
[1999.77,-0.03],[1999.79,0.02],[1999.81,-0.02],[1999.83,0.03],[1999.85,-0.04],[1999.87,0.01],[1999.89,-0.03],[1999.91,0.02],[1999.93,-0.02],[1999.95,0.04],
[1999.97,-0.03],[1999.99,0.05],[2000.01,-0.07],[2000.03,0.02],[2000.05,-0.04],[2000.07,0.03],[2000.09,-0.02],[2000.11,0.02],[2000.13,-0.05],[2000.15,0.03],
[2000.17,-0.03],[2000.19,0.02],[2000.21,-0.04],[2000.23,0.03],[2000.25,-0.02],[2000.27,0.01],[2000.29,-0.03],[2000.31,0.02],[2000.33,-0.04],[2000.35,0.02],
[2000.37,-0.02],[2000.39,0.03],[2000.41,-0.03],[2000.43,0.01],[2000.45,-0.04],[2000.47,0.02],[2000.49,-0.02],[2000.51,0.03],[2000.53,-0.03],[2000.55,0.02],
[2000.57,-0.04],[2000.59,0.03],[2000.61,-0.02],[2000.63,0.02],[2000.65,-0.03],[2000.67,0.01],[2000.69,-0.05],[2000.71,0.03],[2000.73,-0.02],[2000.75,0.02],
[2000.77,-0.04],[2000.79,0.03],[2000.81,-0.03],[2000.83,0.02],[2000.85,-0.02],[2000.87,0.01],[2000.89,-0.04],[2000.91,0.03],[2000.93,-0.03],[2000.95,0.02],
[2000.97,-0.05],[2000.99,0.03],[2001.01,-0.04],[2001.03,0.02],[2001.05,-0.06],[2001.07,0.03],[2001.09,-0.04],[2001.11,0.04],[2001.13,-0.05],[2001.15,0.03],
[2001.17,-0.06],[2001.19,0.07],[2001.21,-0.05],[2001.23,0.04],[2001.25,-0.06],[2001.27,0.03],[2001.29,-0.05],[2001.31,0.04],[2001.33,-0.04],[2001.35,0.03],
[2001.37,-0.05],[2001.39,0.04],[2001.41,-0.03],[2001.43,0.03],[2001.45,-0.05],[2001.47,0.02],[2001.49,-0.04],[2001.51,0.03],[2001.53,-0.03],[2001.55,0.04],
[2001.57,-0.04],[2001.59,0.02],[2001.61,-0.05],[2001.63,0.03],[2001.65,-0.03],[2001.67,0.04],[2001.69,-0.04],[2001.71,0.02],[2001.73,-0.05],[2001.75,0.03],
[2001.77,-0.04],[2001.79,0.03],[2001.81,-0.05],[2001.83,0.02],[2001.85,-0.06],[2001.87,0.04],[2001.89,-0.03],[2001.91,0.03],[2001.93,-0.05],[2001.95,0.04],
[2001.97,-0.04],[2001.99,0.05],[2002.01,-0.06],[2002.03,0.03],[2002.05,-0.05],[2002.07,0.04],[2002.09,-0.07],[2002.11,0.05],[2002.13,-0.04],[2002.15,0.03],
[2002.17,-0.10],[2002.19,0.05],[2002.21,-0.07],[2002.23,0.03],[2002.25,-0.06],[2002.27,0.04],[2002.29,-0.05],[2002.31,0.02],[2002.33,-0.06],[2002.35,0.03],
[2002.37,-0.04],[2002.39,0.02],[2002.41,-0.03],[2002.43,0.01],[2002.45,-0.02],[2002.47,0.02],[2002.49,-0.03],[2002.51,0.01],[2002.53,-0.02],[2002.55,0.02],
[2002.57,-0.03],[2002.59,0.02],[2002.61,-0.04],[2002.63,0.03],[2002.65,-0.02],[2002.67,0.03],[2002.69,-0.05],[2002.71,0.02],[2002.73,-0.04],[2002.75,0.03],
[2002.77,-0.05],[2002.79,0.04],[2002.81,-0.04],[2002.83,0.03],[2002.85,-0.06],[2002.87,0.02],[2002.89,-0.07],[2002.91,0.03],[2002.93,-0.04],[2002.95,0.02],
[2002.97,-0.03],[2002.99,0.02],
[2001.20,0.07],[2002.16,-0.10],[2000.03,-0.07],[2002.21,-0.07],[2002.07,-0.07],[2002.91,-0.07]
];
const lodDoris = [
[1999.01,0.42],[1999.02,0.34],[1999.02,0.29],[1999.03,0.24],[1999.03,0.16],[1999.03,0.07],[1999.05,0.39],[1999.05,0.32],[1999.05,0.19],[1999.06,0.11],
[1999.07,0.44],[1999.08,0.36],[1999.08,0.24],[1999.09,0.49],[1999.09,0.17],[1999.10,0.10],[1999.10,0.39],[1999.10,0.45],[1999.11,0.33],[1999.12,0.28],
[1999.12,0.14],[1999.13,0.06],[1999.14,0.20],[1999.15,0.11],[1999.15,0.07],[1999.16,0.16],[1999.17,0.29],[1999.18,0.11],[1999.20,0.50],[1999.20,0.70],
[1999.21,0.52],[1999.22,0.66],[1999.21,0.33],[1999.23,0.21],[1999.24,0.14],[1999.25,0.48],[1999.25,0.09],[1999.26,0.43],[1999.26,0.34],[1999.26,0.25],
[1999.27,0.18],[1999.28,0.14],[1999.29,0.24],[1999.30,0.40],[1999.31,0.17],[1999.31,0.36],[1999.32,0.25],[1999.32,0.12],[1999.34,0.08],[1999.35,0.44],
[1999.36,0.32],[1999.34,0.14],[1999.31,0.03],[1999.38,0.77],[1999.37,0.03],[1999.41,0.91],[1999.43,0.98],[1999.45,0.36],[1999.46,0.23],[1999.48,0.35],
[1999.50,0.83],[1999.51,0.98],[1999.54,0.98],[1999.56,0.94],[1999.56,0.33],[1999.57,0.29],[1999.56,0.22],[1999.59,0.55],[1999.64,0.98],[1999.69,0.44],
[1999.72,0.23],[1999.74,0.61],[1999.76,0.98],[1999.77,0.51],[1999.82,0.34],[1999.86,0.74],[1999.87,0.43],[1999.93,0.66],[1999.96,0.80],[1999.98,0.99],
[2000.09,0.82],[2000.13,0.70],[2000.14,0.87],[2000.17,0.11],[2000.27,0.41],[2000.36,0.94],[2000.39,0.94],[2000.37,0.05],[2000.51,0.52],[2000.53,0.99],
[2000.54,0.49],[2000.54,0.37],[2000.55,0.86],[2000.60,0.68],[2000.64,0.89],[2000.74,0.80],[2000.75,0.59],[2000.74,0.06],[2000.80,0.51],[2000.81,0.78],
[2000.83,0.03],[2000.85,0.73],[2000.85,0.57],[2000.86,0.34],[2000.88,0.49],[2000.98,0.13],[2001.00,0.59],[2001.04,0.34],[2001.05,0.09],[2001.07,0.01],
[2001.10,0.86],[2001.12,0.11],[2001.14,0.71],[2001.18,0.45],[2001.18,0.39],[2001.20,0.23],[2001.21,0.06],[2001.24,0.34],[2001.24,0.37],[2001.27,0.30],
[2001.29,0.16],[2001.32,0.92],[2001.40,0.40],[2001.41,0.24],[2001.44,0.51],[2001.45,0.82],[2001.45,0.94],[2001.45,0.88],[2001.47,0.53],[2001.49,0.56],
[2001.52,0.60],[2001.52,0.48],[2001.52,0.44],[2001.55,0.10],[2001.56,0.90],[2001.58,0.15],[2001.60,0.79],[2001.61,0.07],[2001.62,0.13],[2001.62,0.53],
[2001.63,0.47],[2001.67,0.52],[2001.70,0.49],[2001.72,0.47],[2001.74,0.82],[2001.75,0.13],[2001.78,0.17],[2001.80,0.57],[2001.81,0.18],[2001.82,0.09],
[2001.84,0.24],[2001.85,0.64],[2001.86,0.34],[2001.87,0.20],[2001.88,0.28],[2001.92,0.09],[2001.93,0.36],[2001.96,0.07],[2001.97,0.33],[2001.97,0.49],
[2001.98,0.85],[2002.00,0.89],[2002.03,0.93],[2002.03,0.03],[2002.07,0.60],[2002.08,0.33],[2002.09,0.37],[2002.10,0.41],[2002.12,0.67],[2002.13,0.95],
[2002.14,0.40],[2002.14,0.21],[2002.15,0.98],[2002.15,0.65],[2002.16,0.71],[2002.16,0.12],[2002.18,0.16],[2002.20,0.85],[2002.22,0.89],[2002.21,0.49],
[2002.24,0.68],[2002.25,0.66],[2002.26,0.37],[2002.26,0.16],[2002.28,0.11],[2002.30,0.94],[2002.31,0.27],[2002.32,0.13],[2002.35,0.86],[2002.35,0.78],
[2002.36,0.08],[2002.38,0.57],[2002.38,0.26],[2002.39,0.17],[2002.40,0.52],[2002.40,0.48],[2002.41,0.72],[2002.40,0.98],[2002.42,0.10],[2002.44,0.26],
[2002.45,0.95],[2002.45,0.82],[2002.45,0.42],[2002.47,0.58],[2002.48,0.03],[2002.50,0.75],[2002.55,0.38],[2002.55,0.16],[2002.60,0.38],[2002.64,0.08],
[2002.67,0.77],[2002.68,0.64],[2002.66,0.24],[2002.67,0.18],[2002.69,0.32],[2002.73,0.75],[2002.74,0.69],[2002.74,0.18],[2002.75,0.60],[2002.75,0.24],
[2002.78,0.87],[2002.78,0.41],[2002.80,0.22],[2002.81,0.81],
[1999.01,-0.18],[1999.01,-0.31],[1999.03,-0.04],[1999.08,-0.07],[1999.13,-0.08],[1999.14,-0.14],[1999.15,-0.25],[1999.15,-0.10],[1999.16,-0.29],[1999.17,-0.15],
[1999.18,-0.46],[1999.19,-0.20],[1999.20,-0.23],[1999.21,-0.33],[1999.21,-0.10],[1999.23,-0.10],[1999.21,-0.92],[1999.28,-0.07],[1999.29,-0.31],[1999.31,-0.09],
[1999.32,-0.18],[1999.34,-0.34],[1999.34,-0.68],[1999.36,-0.90],[1999.31,-0.83],[1999.36,-0.05],[1999.36,-0.48],[1999.39,-0.57],[1999.39,-0.50],[1999.41,-0.17],
[1999.46,-0.83],[1999.48,-0.84],[1999.48,-0.09],[1999.50,-0.53],[1999.51,-0.83],[1999.53,-0.79],[1999.55,-0.94],[1999.56,-0.31],[1999.57,-0.43],[1999.63,-0.81],
[1999.63,-0.47],[1999.67,-0.15],[1999.67,-0.19],[1999.67,-0.29],[1999.70,-0.24],[1999.71,-0.94],[1999.72,-0.71],[1999.77,-0.77],[1999.79,-0.77],[1999.80,-0.07],
[1999.79,-0.48],[1999.84,-0.79],[1999.86,-0.41],[1999.91,-0.11],[1999.92,-0.06],[1999.93,-0.94],[1999.96,-0.57],[1999.97,-0.59],[1999.98,-0.63],[2000.07,-0.72],
[2000.12,-0.94],[2000.21,-0.83],[2000.24,-0.56],[2000.27,-0.80],[2000.29,-0.87],[2000.32,-0.39],[2000.33,-0.62],[2000.41,-0.73],[2000.44,-0.91],[2000.47,-0.13],
[2000.57,-0.34],[2000.59,-0.82],[2000.63,-0.17],[2000.66,-0.59],[2000.68,-0.34],[2000.69,-0.72],[2000.71,-0.32],[2000.72,-0.24],[2000.72,-0.56],[2000.76,-0.72],
[2000.77,-0.35],[2000.77,-0.39],[2000.82,-0.23],[2000.84,-0.56],[2000.85,-0.95],[2000.87,-0.86],[2000.91,-0.82],[2000.92,-0.17],[2000.96,-0.20],[2000.95,-0.60],
[2001.04,-0.93],[2001.09,-0.49],[2001.17,-0.64],[2001.20,-0.78],[2001.23,-0.81],[2001.22,-0.35],[2001.24,-0.82],[2001.26,-0.26],[2001.29,-0.42],[2001.31,-0.36],
[2001.32,-0.14],[2001.34,-0.56],[2001.34,-0.83],[2001.36,-0.13],[2001.36,-0.78],[2001.40,-0.30],[2001.41,-0.49],[2001.43,-0.85],[2001.45,-0.47],[2001.46,-0.33],
[2001.47,-0.36],[2001.47,-0.44],[2001.48,-0.55],[2001.47,-0.96],[2001.48,-0.78],[2001.50,-0.13],[2001.51,-0.63],[2001.52,-0.99],[2001.56,-0.44],[2001.56,-0.23],
[2001.57,-0.16],[2001.58,-0.29],[2001.57,-0.89],[2001.62,-0.70],[2001.63,-0.23],[2001.64,-0.17],[2001.65,-0.86],[2001.65,-0.97],[2001.68,-0.70],[2001.73,-0.80],
[2001.74,-0.98],[2001.77,-0.98],[2001.78,-0.21],[2001.80,-0.78],[2001.82,-0.33],[2001.84,-0.48],[2001.85,-0.89],[2001.86,-0.92],[2001.88,-0.24],[2001.90,-0.09],
[2001.91,-0.29],[2001.95,-0.04],[2001.97,-0.24],[2001.97,-0.73],[2001.99,-0.36],[2002.00,-0.05],[2002.01,-0.47],[2002.05,-0.17],[2002.08,-0.07],[2002.13,-0.94],
[2002.13,-0.98],[2002.14,-0.33],[2002.16,-0.23],[2002.17,-0.52],[2002.18,-0.56],[2002.18,-0.63],[2002.19,-0.23],[2002.20,-0.14],[2002.20,-0.41],[2002.23,-0.23],
[2002.24,-0.33],[2002.23,-0.09],[2002.25,-0.79],[2002.27,-0.20],[2002.28,-0.75],[2002.30,-0.72],[2002.34,-0.96],[2002.41,-0.84],[2002.45,-0.79],[2002.48,-0.13],
[2002.49,-0.22],[2002.50,-0.37],[2002.51,-0.70],[2002.54,-0.59],[2002.54,-0.30],[2002.57,-0.25],[2002.61,-0.67],[2002.62,-0.09],[2002.64,-0.70],[2002.64,-0.64],
[2002.64,-0.82],[2002.66,-0.44],[2002.69,-0.20],[2002.70,-0.98],[2002.71,-0.52],[2002.73,-0.59],[2002.73,-0.81],[2002.78,-0.60],[2002.80,-0.16]
];

const series = {
  XPOR: {VLBI: xporVlbi, SLR: xporSlr, IGS: xporIgs, DORIS: xporDoris},
  YPOR: {VLBI: yporVlbi, SLR: yporSlr, IGS: yporIgs, DORIS: yporDoris},
  LOD:  {VLBI: lodVlbi,  SLR: lodSlr,  IGS: lodIgs,  DORIS: lodDoris}
};

const chart = document.getElementById("chart");
const font = "'Liberation Sans', Arial, Helvetica, sans-serif";
parameters.forEach((p, row) => techniques.forEach((t, col) => {
  const data = series[p][t];
  const svg = Plot.plot({
    width: 438, height: 331,
    marginLeft: 86, marginRight: 34, marginTop: 49, marginBottom: 50,
    style: {background: "transparent", overflow: "visible", fontFamily: font, color: "black"},
    x: {domain: [1999, 2003]},
    y: {domain: [-1, 1]},
    marks: [
      Plot.dot(data, {x: d => d[0], y: d => d[1], symbol: "square", r: 2.4, fill: "#ff0000", stroke: null}),
      Plot.ruleY([0], {stroke: "black", strokeWidth: 4.5}),
      Plot.frame({stroke: "black", strokeWidth: 3}),
      Plot.axisX({anchor: "bottom", ticks: yearTicks, tickSize: 11, tickPadding: 9, tickFormat: d => String(d), fontSize: 29, strokeWidth: 2.2, label: null, fill: "black", textStroke: "black", textStrokeWidth: 0.7}),
      Plot.axisX({anchor: "top", ticks: yearTicks, tickSize: 11, tickFormat: () => "", strokeWidth: 2.2, label: null}),
      Plot.axisY({anchor: "left", ticks: valueTicks, tickSize: 12, tickPadding: 10, tickFormat: d => d.toFixed(1), fontSize: 26, strokeWidth: 2.2, label: null, fill: "black", textStroke: "black", textStrokeWidth: 0.7}),
      Plot.axisY({anchor: "right", ticks: valueTicks, tickSize: 12, tickFormat: () => "", strokeWidth: 2.2, label: null}),
      Plot.text([p + " " + t], {text: d => d, frameAnchor: "top-left", dy: -12, lineAnchor: "bottom", textAnchor: "start", fontSize: 36, fill: "black", stroke: "black", strokeWidth: 0.6})
    ]
  });
  svg.classList.add("panel");
  svg.style.left = (col * 395) + "px";
  svg.style.top = (row * 340) + "px";
  chart.appendChild(svg);
}));
</script>
</body></html>
